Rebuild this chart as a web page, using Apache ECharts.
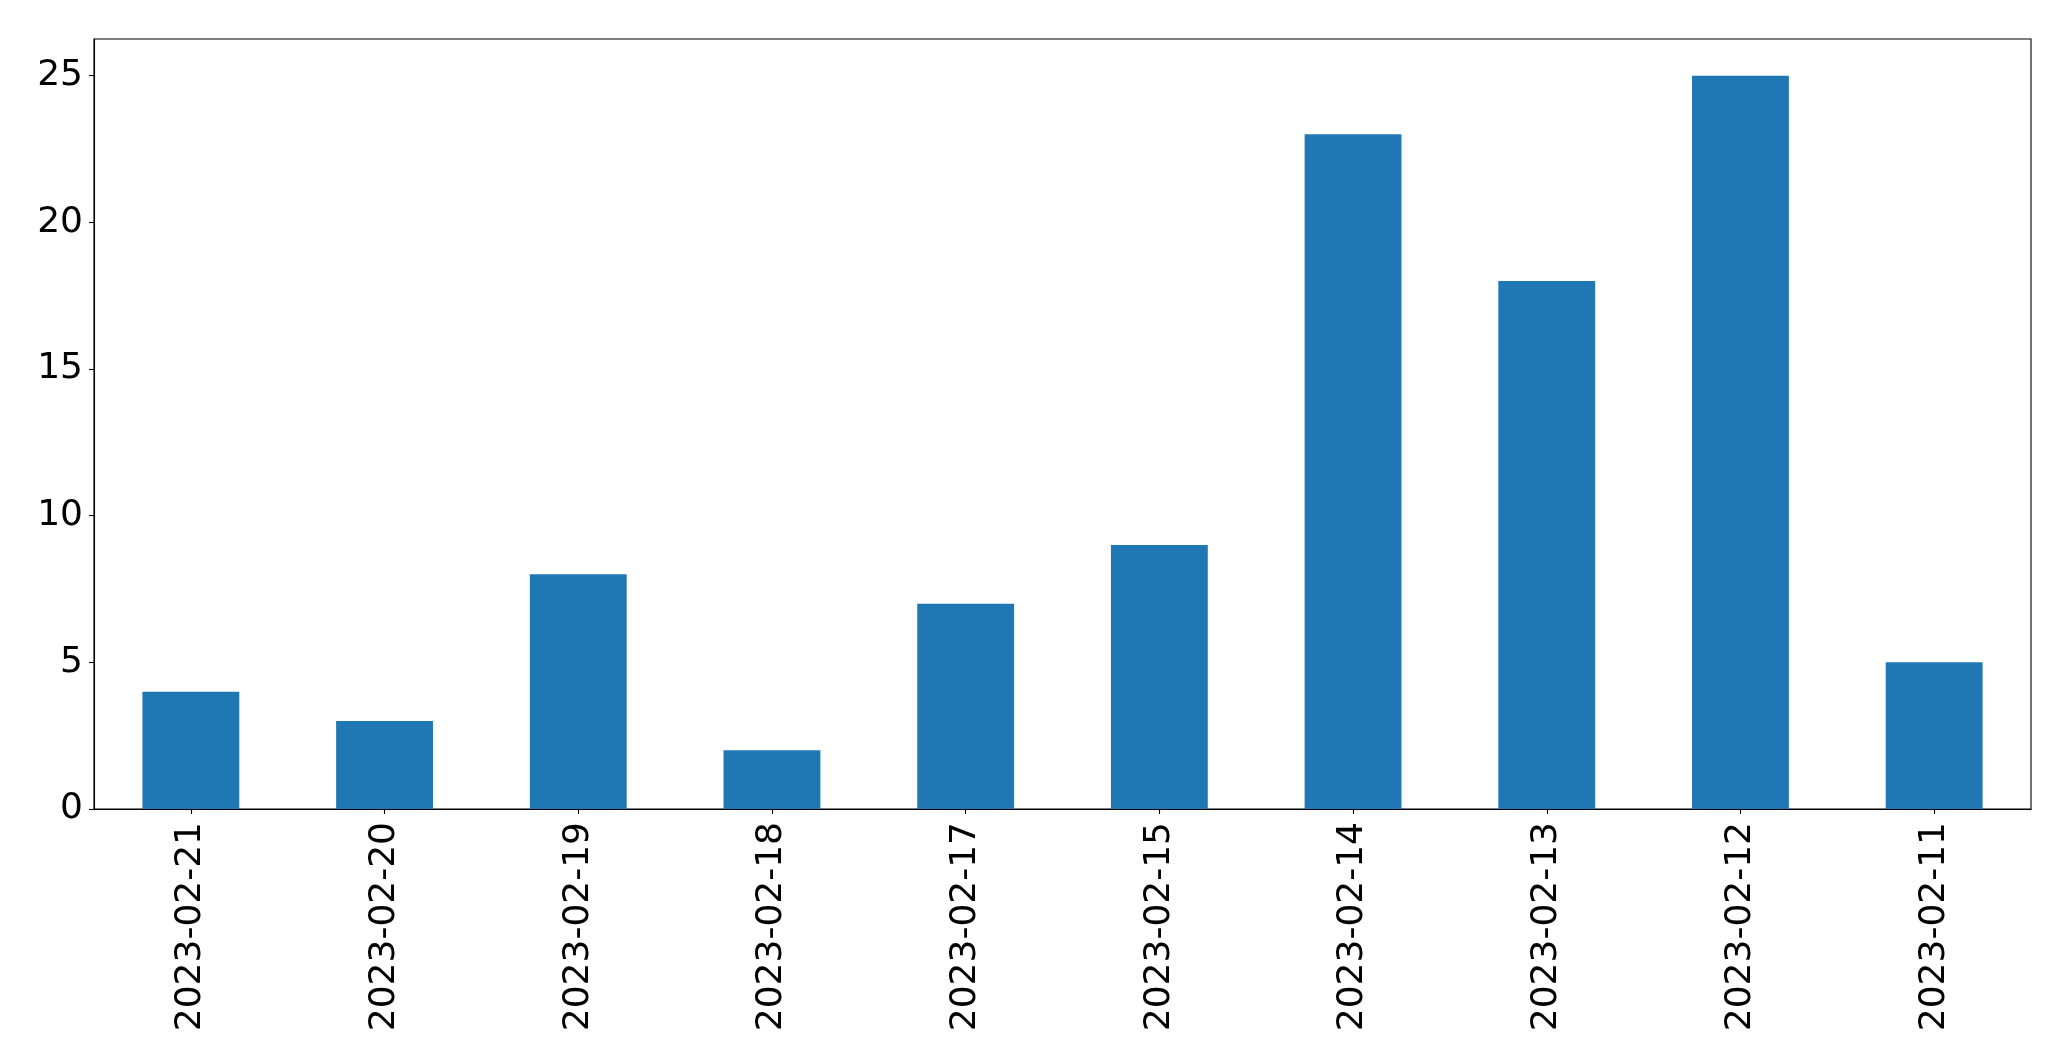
<!DOCTYPE html>
<html>
<head>
<meta charset="utf-8">
<script src="https://cdn.jsdelivr.net/npm/echarts@6/dist/echarts.min.js"></script>
<style>
html,body{margin:0;padding:0;background:#fff;}
#c{width:2071px;height:1061px;}
</style>
</head>
<body>
<div id="c"></div>
<script>
const categories = ["2023-02-21","2023-02-20","2023-02-19","2023-02-18","2023-02-17","2023-02-15","2023-02-14","2023-02-13","2023-02-12","2023-02-11"];
const values = [4,3,8,2,7,9,23,18,25,5];
const yTicks = [0,5,10,15,20,25];

const chart = echarts.init(document.getElementById('c'), null, {renderer:'canvas'});
const font = 'DejaVu Sans';
chart.setOption({
  animation:false,
  backgroundColor:'#fff',
  grid:{left:94,right:40,top:39,bottom:252,show:true,borderColor:'#000',borderWidth:1.1,containLabel:false},
  xAxis:{
    type:'category',
    data:categories,
    boundaryGap:true,
    axisLine:{show:true,lineStyle:{color:'#000',width:1.1}},
    axisTick:{show:true,alignWithLabel:true,length:5,lineStyle:{color:'#000',width:1.1}},
    axisLabel:{rotate:90,interval:0,margin:13,fontFamily:font,fontSize:36,color:'#000'},
    splitLine:{show:false}
  },
  yAxis:{
    type:'value',
    min:0,max:26.25,interval:5,
    axisLine:{show:true,lineStyle:{color:'#000',width:1.1}},
    axisTick:{show:true,length:5,lineStyle:{color:'#000',width:1.1},customValues:yTicks},
    axisLabel:{margin:11,fontFamily:font,fontSize:36,color:'#000',customValues:yTicks},
    splitLine:{show:false}
  },
  series:[{type:'bar',data:values,barWidth:'50%',itemStyle:{color:'#1f77b4'}}]
});
</script>
</body>
</html>
